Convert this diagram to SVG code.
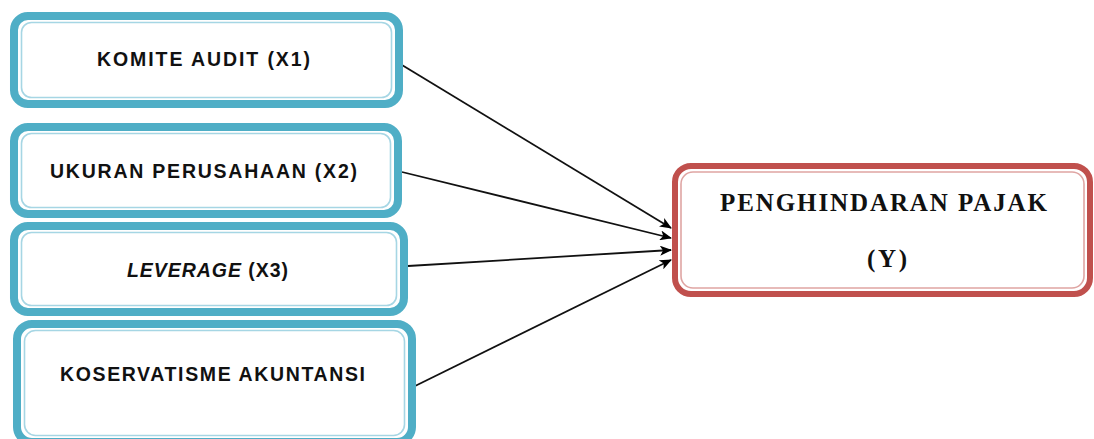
<svg xmlns="http://www.w3.org/2000/svg" width="1094" height="439" viewBox="0 0 1094 439">
<defs>
<style>
.outerB{fill:#ffffff;stroke:#4FAEC6;stroke-width:8}
.innerB{fill:none;stroke:#A6D6E4;stroke-width:1.6}
.outerR{fill:#ffffff;stroke:#C0504D;stroke-width:6}
.innerR{fill:none;stroke:#DFA5A3;stroke-width:1.6}
.lbl{font-family:"Liberation Sans",Arial,sans-serif;font-weight:bold;font-size:19.5px;fill:#111}
.lblR{font-family:"Liberation Serif","Times New Roman",serif;font-weight:bold;font-size:25px;fill:#111}
.conn{stroke:#111;stroke-width:1.8;fill:none;marker-end:url(#arr)}
</style>
<marker id="arr" viewBox="0 0 12 10" refX="11" refY="5" markerWidth="12" markerHeight="10" markerUnits="userSpaceOnUse" orient="auto">
<path d="M0,0 L12,5 L0,10 L3,5 Z" fill="#000"/>
</marker>
</defs>
<rect width="1094" height="439" fill="#ffffff"/>
<g id="connectors">
<line class="conn" x1="397" y1="62" x2="671" y2="228"/>
<line class="conn" x1="402" y1="172" x2="671" y2="238"/>
<line class="conn" x1="408" y1="266" x2="671" y2="250"/>
<line class="conn" x1="411" y1="388" x2="671" y2="260"/>
</g>
<g id="node-x1">
<rect class="outerB" x="14" y="16" width="385" height="88" rx="14"/>
<rect class="innerB" x="21.5" y="22.5" width="370" height="75" rx="10"/>
<text class="lbl" x="97" y="66" textLength="213" lengthAdjust="spacing">KOMITE AUDIT (X1)</text>
</g>
<g id="node-x2">
<rect class="outerB" x="14" y="127" width="384" height="87" rx="14"/>
<rect class="innerB" x="21.5" y="133.5" width="369" height="74" rx="10"/>
<text class="lbl" x="50" y="178" textLength="307" lengthAdjust="spacing">UKURAN PERUSAHAAN (X2)</text>
</g>
<g id="node-x3">
<rect class="outerB" x="14" y="226" width="390" height="86" rx="14"/>
<rect class="innerB" x="21.5" y="232.5" width="375" height="73" rx="10"/>
<text class="lbl" x="127" y="277" textLength="161" lengthAdjust="spacing"><tspan font-style="italic">LEVERAGE</tspan> (X3)</text>
</g>
<g id="node-x4">
<rect class="outerB" x="17" y="324" width="395" height="118" rx="15"/>
<rect class="innerB" x="24.5" y="330.5" width="380" height="105" rx="11"/>
<text class="lbl" x="60" y="381" textLength="305" lengthAdjust="spacing">KOSERVATISME AKUNTANSI</text>
</g>
<g id="node-y">
<rect class="outerR" x="675" y="166" width="415" height="128" rx="16"/>
<rect class="innerR" x="681" y="172" width="403" height="116" rx="12"/>
<text class="lblR" x="720" y="211" textLength="327" lengthAdjust="spacing">PENGHINDARAN PAJAK</text>
<text class="lblR" x="867" y="267" textLength="40" lengthAdjust="spacing">(Y)</text>
</g>
</svg>
